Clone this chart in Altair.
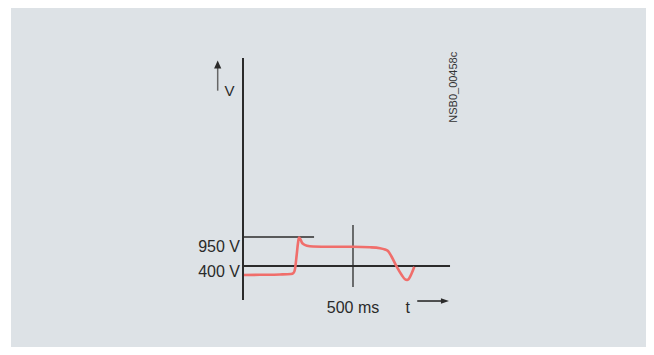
import altair as alt
import pandas as pd

# Red voltage trace (time in ms, voltage in V)
curve_t = [4.5, 77, 168, 218, 229.5, 236.4, 244, 250, 254.5, 261.4, 268.2, 277.3, 290.9,
           318.2, 395.5, 500, 577.3, 622.7, 645.5, 659.1, 675, 698.6, 721.4, 736.4, 745.5,
           752.3, 766.8, 778.6]
curve_v = [229, 233, 239, 248, 267, 343, 609, 836, 940, 903, 840, 808, 785,
           770, 764, 764, 755, 738, 713, 685, 580, 387, 229, 148, 135,
           148, 262, 387]

# Reference lines: [t, t2, v, v2, stroke width, colour]
rule_t = [0, 0, 0, 500, -115, 792]
rule_t2 = [0, 941, 323, 500, -115, 900]
rule_v = [-245, 400, 950, 2, 3725, -264]
rule_v2 = [4345, 400, 950, 1178, 4200, -264]
rule_w = [2.0, 2.0, 1.3, 1.3, 1.5, 1.6]
rule_c = ["#2b2b2b", "#2b2b2b", "#2b2b2b", "#2b2b2b", "#666666", "#2b2b2b"]

# Arrow heads
head_t = [-115, 918]
head_v = [4220, -264]
head_shape = ["M0,-1L-0.9,1L0.9,1Z", "M1,0L-1,-0.7L-1,0.7Z"]

# Labels
label_text = ["950 V", "400 V", "500 ms", "t", "V"]
label_t = [0, 0, 500, 749, -61]
label_v = [950, 400, 400, 400, 3624]
label_dx = [-3, -3, 0, 0, 0]
label_dy = [15.3, 10.7, 46.7, 46.7, 0]
label_align = ["right", "right", "center", "center", "center"]
label_size = [16, 16, 16, 16, 15]

code_text = "NSB0_00458c"
code_t = 959
code_v = 3790

xs = alt.Scale(domain=[-1054.5, 1831.8], nice=False, zero=False)
ys = alt.Scale(domain=[-1136.2, 5293], nice=False, zero=False)

rules_df = pd.DataFrame({"t": rule_t, "t2": rule_t2, "v": rule_v, "v2": rule_v2,
                         "w": rule_w, "c": rule_c})
rules = alt.Chart(rules_df).mark_rule().encode(
    x=alt.X("t:Q", scale=xs, axis=None),
    x2="t2:Q",
    y=alt.Y("v:Q", scale=ys, axis=None),
    y2="v2:Q",
    strokeWidth=alt.StrokeWidth("w:Q", scale=None),
    color=alt.Color("c:N", scale=None),
)

heads_df = pd.DataFrame({"t": head_t, "v": head_v, "s": head_shape})
heads = alt.Chart(heads_df).mark_point(filled=True, size=64, opacity=1, color="#2b2b2b").encode(
    x=alt.X("t:Q", scale=xs, axis=None),
    y=alt.Y("v:Q", scale=ys, axis=None),
    shape=alt.Shape("s:N", scale=None),
)

curve_df = pd.DataFrame({"t": curve_t, "v": curve_v})
curve = alt.Chart(curve_df).mark_line(color="#f06e6b", strokeWidth=2.6,
                                      interpolate="monotone").encode(
    x=alt.X("t:Q", scale=xs, axis=None),
    y=alt.Y("v:Q", scale=ys, axis=None),
)

layers = [rules, curve, heads]
for i, txt in enumerate(label_text):
    d = pd.DataFrame({"t": [label_t[i]], "v": [label_v[i]], "txt": [txt]})
    layers.append(
        alt.Chart(d).mark_text(
            align=label_align[i], baseline="alphabetic", dx=label_dx[i], dy=label_dy[i],
            fontSize=label_size[i], font="Liberation Sans", color="#2a2a2a",
        ).encode(
            x=alt.X("t:Q", scale=xs, axis=None),
            y=alt.Y("v:Q", scale=ys, axis=None),
            text="txt:N",
        )
    )

code_df = pd.DataFrame({"t": [code_t], "v": [code_v], "txt": [code_text]})
layers.append(
    alt.Chart(code_df).mark_text(
        angle=270, align="center", baseline="middle", fontSize=11,
        font="Liberation Sans", color="#333333",
    ).encode(
        x=alt.X("t:Q", scale=xs, axis=None),
        y=alt.Y("v:Q", scale=ys, axis=None),
        text="txt:N",
    )
)

chart = alt.layer(*layers).properties(
    width=635, height=339,
    autosize=alt.AutoSizeParams(type="none"),
    padding={"left": 3, "top": 0, "right": 0, "bottom": 0},
    background="#ffffff",
).configure_view(fill="#dde2e6", stroke=None)

chart.save("out.html", embed_options={"renderer": "svg", "actions": False})
